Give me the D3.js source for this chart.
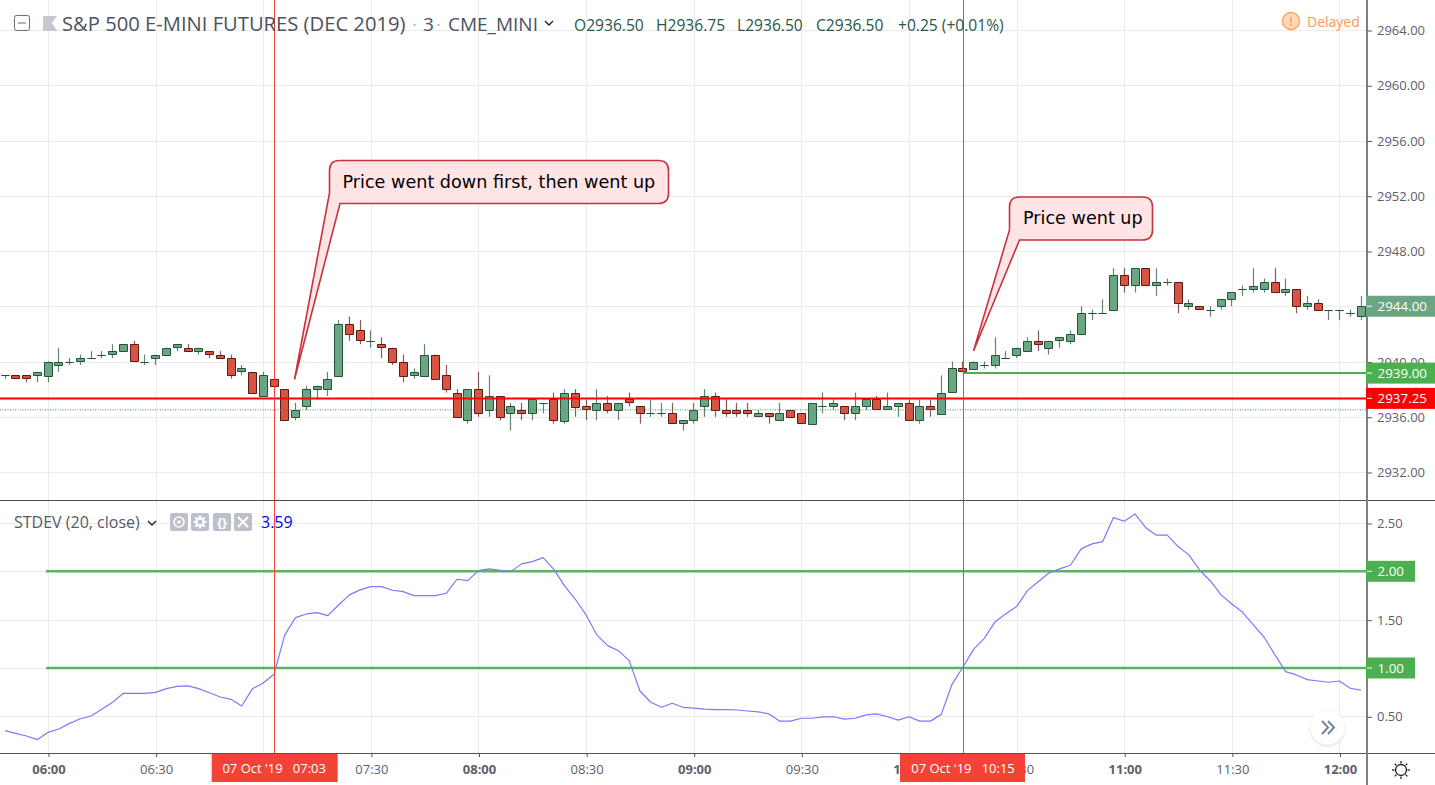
<!DOCTYPE html>
<html><head><meta charset="utf-8">
<script src="https://cdnjs.cloudflare.com/ajax/libs/d3/7.8.5/d3.min.js"></script>
<style>
html,body{margin:0;padding:0;background:#fff;overflow:hidden}
svg{display:block}
text{font-family:"Open Sans","Noto Sans",sans-serif}
</style></head><body>
<svg id="c" width="1435" height="785"></svg>
<script>
// Bars run every 3 minutes from 05:48 to 12:06
const opens=[2939,2939,2939,2939,2939,2939.75,2940,2940,2940.25,2940.5,2940.5,2940.75,2941.25,2940,2940.25,2940.5,2941,2941,2940.75,2940.75,2940.5,2940.25,2939.25,2939.25,2937.5,2938.75,2938,2936,2936.75,2938,2938,2939,2942.75,2942.25,2941.5,2941.25,2941,2940,2939,2939,2940.5,2939,2937.75,2935.75,2938,2936.5,2937.5,2936.25,2936.5,2936.25,2937,2937.25,2935.75,2937.75,2936.75,2936.5,2937,2936.5,2937.25,2936.75,2936.25,2936.25,2936.25,2935.5,2935.75,2936.75,2937.5,2936.5,2936.5,2936.5,2936,2936.25,2935.75,2936.5,2936.25,2935.5,2936.75,2936.75,2936.75,2936.25,2936.75,2937.25,2936.5,2936.75,2937,2935.75,2936.75,2936.25,2937.75,2939.5,2939.5,2939.75,2939.75,2940.25,2940.5,2940.75,2941.5,2941,2941.5,2941.5,2942,2943.5,2943.5,2943.75,2946.25,2945.5,2946.75,2945.5,2945.75,2945.75,2944,2944,2943.75,2944,2944.5,2945.25,2945.25,2945.25,2945.75,2945,2945.25,2944,2944.25,2943.75,2943.75,2943.5,2943.25];
const highs=[2939,2939,2939,2939.25,2940,2941,2940.25,2940.5,2940.75,2940.75,2941.25,2941.25,2941.5,2940.5,2940.5,2941,2941.25,2941.25,2941,2940.75,2940.75,2940.5,2939.75,2939.25,2939.25,2938.75,2938,2937,2938.25,2938.25,2939.25,2943,2943.25,2943,2942.25,2941.75,2941,2940.5,2939.5,2941.25,2940.5,2939.75,2938,2938,2939.25,2939,2937.5,2937,2937,2937.25,2937,2937.75,2938,2938,2937.25,2938,2937.5,2937,2937.75,2936.75,2937.25,2937,2937,2935.75,2937,2938,2937.75,2937.25,2937,2937,2936.5,2936.25,2937,2936.5,2936.25,2937,2937.75,2937.25,2936.75,2937.75,2937.25,2937.5,2937.75,2937,2937.25,2937.25,2937.25,2939,2940,2940,2940,2940,2941.75,2940.75,2941,2941.75,2942.25,2941.5,2941.75,2942.25,2944,2943.75,2944.5,2946.75,2946.75,2946.75,2946.75,2946.75,2946,2945.75,2944.5,2944,2944,2944.5,2945,2945.5,2946.75,2946,2946.75,2946,2945.25,2944.75,2944.5,2943.75,2943.75,2943.75,2944.75];
const lows=[2938.75,2938.75,2938.5,2938.5,2938.5,2939.25,2939.75,2939.75,2940.25,2940.25,2940.25,2940.75,2940,2939.75,2939.75,2940.5,2940.75,2940.75,2940.5,2940.25,2940.25,2938.75,2939,2937.75,2937.5,2937.5,2935.75,2935.75,2936.5,2937.25,2937.5,2939,2941.5,2941.25,2941,2940.25,2939.75,2938.5,2938.75,2939,2938.75,2937.75,2936,2935.5,2936,2936,2935.75,2935,2935.75,2935.75,2936.25,2935.5,2935.5,2936,2935.75,2935.75,2936.25,2935.75,2936.75,2935.5,2936,2936,2935.5,2935,2935.5,2936,2936,2936,2936,2936,2936,2935.5,2935.75,2936,2935.5,2935.5,2936.25,2936.5,2935.75,2935.75,2936.5,2936.5,2936.5,2936,2935.75,2935.5,2936,2936.25,2937.75,2939.25,2939.5,2939.5,2939.5,2940.25,2940.25,2940.75,2940.75,2940.5,2941,2941.25,2942,2943,2943.5,2943.75,2945,2945,2945.5,2944.75,2945.5,2943.5,2943.75,2943.75,2943.25,2943.75,2944,2944.75,2945,2945,2945,2944.75,2943.5,2943.75,2943.75,2943,2943,2943.25,2943];
const closes=[2939,2938.75,2938.75,2939.25,2940,2940,2940,2940.25,2940.25,2940.5,2940.75,2941.25,2940,2940,2940.5,2941,2941.25,2940.75,2941,2940.5,2940.25,2939,2939.5,2937.75,2939,2938.25,2935.75,2936.5,2938,2938.25,2938.75,2942.75,2942,2941.5,2941.5,2941,2940,2939,2939.25,2940.5,2938.75,2938,2936,2938,2936.25,2937.5,2936,2936.75,2936.25,2937.25,2937,2935.75,2937.75,2936.75,2936.5,2937,2936.5,2937,2937,2936.25,2936.25,2936.25,2935.5,2935.75,2936.5,2937.5,2936.5,2936.25,2936.25,2936.25,2936.25,2936,2936.25,2936,2935.5,2937,2936.75,2937,2936.25,2936.75,2937.25,2936.5,2936.75,2937,2935.75,2936.75,2936.5,2937.75,2939.5,2939.25,2940,2939.75,2940.5,2940.25,2941,2941.5,2941.25,2941.5,2941.75,2942,2943.5,2943.5,2943.5,2946.25,2945.5,2946.75,2945.5,2945.75,2945.75,2944.25,2944.25,2943.75,2943.75,2944.5,2945,2945.25,2945.5,2945.75,2945,2945.25,2944,2944.25,2943.75,2943.75,2943.75,2943.5,2944];
const stdev=[.351,.324,.296,.258,.334,.369,.427,.475,.503,.572,.645,.738,.738,.738,.748,.786,.81,.814,.786,.744,.70,.676,.607,.786,.845,.935,1.342,1.521,1.559,1.573,1.541,1.652,1.756,1.808,1.842,1.842,1.804,1.79,1.748,1.748,1.748,1.773,1.918,1.904,2.007,2.025,2.011,1.997,2.077,2.10,2.142,2.02,1.849,1.711,1.549,1.342,1.231,1.179,1.076,.762,.645,.593,.635,.593,.585,.575,.57,.57,.565,.555,.545,.525,.45,.45,.48,.48,.495,.495,.47,.48,.515,.525,.495,.46,.495,.45,.45,.52,.831,1.007,1.193,1.307,1.479,1.562,1.635,1.80,1.893,1.983,2.025,2.063,2.232,2.284,2.308,2.556,2.518,2.594,2.452,2.374,2.374,2.256,2.17,2.014,1.90,1.756,1.662,1.576,1.445,1.318,1.135,.962,.928,.879,.865,.852,.865,.79,.77];
// Time axis: index of the bar, label, bold on the hour
const timeTickBars=[4,14,24,34,44,54,64,74,84,94,104,114,124];
const timeTickLabels=["06:00","06:30","07:00","07:30","08:00","08:30","09:00","09:30","10:00","10:30","11:00","11:30","12:00"];
const timeTickBold=[1,0,1,0,1,0,1,0,1,0,1,0,1];
const priceTicks=[2964,2960,2956,2952,2948,2944,2940,2936,2932];
const stdevTicks=[2.5,2,1.5,1,.5];
const stdevLevels=[2,1];
const stdevLevelStartBar=4;
const cursorBars=[25,89];
const cursorLabels=["07 Oct '19   07:03","07 Oct '19   10:15"];
const redLevel=2937.33, greenLevel=2939.16, lastClose=2936.5;
const priceTags=[{t:"2944.00",y:2944,c:"#6ba583"},{t:"2939.00",y:greenLevel,c:"#4caf50"},{t:"2937.25",y:redLevel,c:"#ff0000"}];
const ohlc=[["O2936.50",574],["H2936.75",656],["L2936.50",737],["C2936.50",816],["+0.25 (+0.01%)",898]];

const W=1435,H=785,axX=1367,axisH=753,sepY=500;
const x=d3.scaleLinear().domain([0,126]).range([4.96,1361]);
const y=d3.scaleLinear().domain([2964,2932]).range([30,472]);
const ys=d3.scaleLinear().domain([2.5,.5]).range([523,716.3]);
const svg=d3.select("#c");
const G="#ebebeb";
const px=v=>Math.round(v)+.5;
const barX=i=>px(x(i)-.4);

// grid
const grid=svg.append("g").attr("stroke",G).attr("stroke-width",1);
grid.selectAll(".v").data(timeTickBars).join("line").attr("x1",d=>px(x(d))).attr("x2",d=>px(x(d))).attr("y1",0).attr("y2",axisH);
grid.selectAll(".p").data(priceTicks).join("line").attr("x1",0).attr("x2",axX).attr("y1",d=>px(y(d))).attr("y2",d=>px(y(d)));
grid.selectAll(".s").data(stdevTicks).join("line").attr("x1",0).attr("x2",axX).attr("y1",d=>px(ys(d))).attr("y2",d=>px(ys(d)));

// candles
const idx=d3.range(opens.length);
const up=i=>closes[i]>=opens[i];
svg.append("g").selectAll("line").data(idx).join("line")
 .attr("x1",i=>barX(i)).attr("x2",i=>barX(i)).attr("y1",i=>y(highs[i])).attr("y2",i=>y(lows[i]))
 .attr("stroke",i=>up(i)?"#225437":"#5b1a13").attr("stroke-opacity",.72).attr("stroke-width",1.2);
svg.append("g").selectAll("path").data(idx).join("path")
 .attr("d",i=>{
   const t=px(y(Math.max(opens[i],closes[i])));
   const h=Math.round(Math.abs(y(opens[i])-y(closes[i])));
   return `M${barX(i)-4},${t}h8v${h}h-8Z`;
 })
 .attr("fill",i=>up(i)?"#6ba583":"#d75442")
 .attr("stroke",i=>up(i)?"#225437":"#5b1a13").attr("stroke-width",1);

// price levels
svg.append("line").attr("x1",0).attr("x2",axX).attr("y1",y(lastClose)).attr("y2",y(lastClose))
 .attr("stroke","#4c8c6c").attr("stroke-width",1).attr("stroke-dasharray","1 1.5");
svg.append("line").attr("x1",0).attr("x2",axX).attr("y1",y(redLevel)).attr("y2",y(redLevel))
 .attr("stroke","#ff0000").attr("stroke-width",2);
svg.append("line").attr("x1",x(cursorBars[1]+0)).attr("x2",axX).attr("y1",y(greenLevel)).attr("y2",y(greenLevel))
 .attr("stroke","#4caf50").attr("stroke-width",2);

// stdev levels and line
svg.append("g").selectAll("line").data(stdevLevels).join("line")
 .attr("x1",x(stdevLevelStartBar)-2).attr("x2",axX).attr("y1",d=>ys(d)).attr("y2",d=>ys(d))
 .attr("stroke","#5ab55e").attr("stroke-width",2.5);
svg.append("path").attr("fill","none").attr("stroke","#7a7afc").attr("stroke-width",1.2)
 .attr("stroke-linejoin","round")
 .attr("d",d3.line().x((d,i)=>x(i)).y(d=>ys(d))(stdev));

// callouts
const callout=(l,t,r,b,rad,tailTop,tip,tailX,txt,tx,ty)=>{
 const p=`M${l+rad},${t}H${r-rad}Q${r},${t} ${r},${t+rad}V${b-rad}Q${r},${b} ${r-rad},${b}H${tailX}L${tip[0]},${tip[1]}L${l},${tailTop}V${t+rad}Q${l},${t} ${l+rad},${t}Z`;
 svg.append("path").attr("d",p).attr("fill","#ffe4e6").attr("stroke","#c8323c").attr("stroke-width",1.6).attr("stroke-linejoin","miter");
 svg.append("text").attr("x",tx).attr("y",ty).text(txt).attr("fill","#000")
  .style("font-family","'DejaVu Sans'").style("font-size","17.6px");
};
callout(329.5,160.5,668.5,203.5,10,193,[294.5,379.5],340,"Price went down first, then went up",342.5,187.5);
callout(1009.5,197,1152.5,240,10,230,[973.5,351],1019.5,"Price went up",1023,224);

// cursors
svg.append("g").selectAll("line").data(cursorBars).join("line")
 .attr("x1",d=>px(x(d))).attr("x2",d=>px(x(d))).attr("y1",0).attr("y2",756)
 .attr("stroke","#f44336").attr("stroke-width",1);

// axes
const fmt2=d3.format(".2f");
const styleAxis=g=>{g.select(".domain").remove();g.selectAll("text").style("font-size","13px").attr("fill","#5d606b");g.selectAll("line").attr("stroke","#555");};
svg.append("g").attr("transform",`translate(${axX},0.5)`).call(d3.axisRight(y).tickValues(priceTicks).tickFormat(fmt2).tickSize(5).tickPadding(5)).call(styleAxis);
svg.append("g").attr("transform",`translate(${axX},0.5)`).call(d3.axisRight(ys).tickValues(stdevTicks).tickFormat(fmt2).tickSize(5).tickPadding(5)).call(styleAxis);
const xAxis=svg.append("g").attr("transform",`translate(0.5,${axisH})`).call(d3.axisBottom(x).tickValues(timeTickBars).tickFormat((d,i)=>timeTickLabels[i]).tickSize(4).tickPadding(8)).call(styleAxis);
xAxis.selectAll("text").style("font-weight",(d,i)=>timeTickBold[i]?"700":"400");

// frame lines
svg.append("line").attr("x1",0).attr("x2",W).attr("y1",sepY+.5).attr("y2",sepY+.5).attr("stroke","#4a4a4a");
svg.append("line").attr("x1",0).attr("x2",W).attr("y1",axisH+.5).attr("y2",axisH+.5).attr("stroke","#555");
svg.append("line").attr("x1",axX).attr("x2",axX).attr("y1",0).attr("y2",H).attr("stroke","#7f7f7f").attr("stroke-width",2);

// price tags
const tags=svg.append("g");
priceTags.forEach(d=>{
 const c=y(d.y);
 tags.append("rect").attr("x",axX-1).attr("y",c-10.5).attr("width",W-axX+1).attr("height",21).attr("fill",d.c);
 tags.append("line").attr("x1",axX).attr("x2",axX+5).attr("y1",c).attr("y2",c).attr("stroke","#fff");
 tags.append("text").attr("x",axX+10.5).attr("y",c+4.8).text(d.t).attr("fill","#fff").style("font-size","13.4px");
});
stdevLevels.forEach(v=>{
 const c=ys(v);
 tags.append("rect").attr("x",axX-1).attr("y",c-10.5).attr("width",49).attr("height",21).attr("fill","#4caf50");
 tags.append("line").attr("x1",axX).attr("x2",axX+5).attr("y1",c).attr("y2",c).attr("stroke","#fff");
 tags.append("text").attr("x",axX+10.5).attr("y",c+4.8).text(fmt2(v)).attr("fill","#fff").style("font-size","13.4px");
});

// time tags
const tagW=[126,125];
cursorBars.forEach((b,i)=>{
 const cx=[274.2,963][i];
 svg.append("rect").attr("x",cx-(i?63:62.5)).attr("y",754).attr("width",tagW[i]).attr("height",28).attr("fill","#f44336");
 svg.append("text").attr("x",cx).attr("y",773).attr("text-anchor","middle").text(cursorLabels[i]).attr("fill","#fff").style("font-size","13px").style("white-space","pre").attr("xml:space","preserve");
});

// header
const hdr=svg.append("g");
hdr.append("rect").attr("x",14.5).attr("y",15.5).attr("width",15).attr("height",15).attr("rx",2).attr("fill","none").attr("stroke","#6d6d6d");
hdr.append("line").attr("x1",18).attr("x2",26).attr("y1",23).attr("y2",23).attr("stroke","#6d6d6d");
hdr.append("path").attr("d","M43,16H57L52,23L57,31H43Z").attr("fill","#c5c8d1");
hdr.append("text").attr("x",62).attr("y",31).text("S&P 500 E-MINI FUTURES (DEC 2019)").attr("fill","#4c525e").style("font-size","20.2px");
hdr.append("text").attr("x",412).attr("y",31).text("·").attr("fill","#b5b8c0").style("font-size","19px");
hdr.append("text").attr("x",423).attr("y",31).text("3").attr("fill","#4c525e").style("font-size","19px");
hdr.append("text").attr("x",436).attr("y",31).text("·").attr("fill","#b5b8c0").style("font-size","19px");
hdr.append("text").attr("x",448).attr("y",31).text("CME_MINI").attr("fill","#4c525e").style("font-size","19px");
hdr.append("path").attr("d","M545,21L549,25L553,21").attr("fill","none").attr("stroke","#222").attr("stroke-width",1.4);
ohlc.forEach(d=>hdr.append("text").attr("x",d[1]).attr("y",30.5).text(d[0]).attr("fill","#28584a").style("font-size","15.6px"));
hdr.append("circle").attr("cx",1291).attr("cy",21).attr("r",8.5).attr("fill","#ffd9b8").attr("stroke","#ffa15c").attr("stroke-width",1.4);
hdr.append("text").attr("x",1291).attr("y",26).attr("text-anchor","middle").text("!").attr("fill","#ff8a3c").style("font-size","13px");
hdr.append("text").attr("x",1307).attr("y",27).text("Delayed").attr("fill","#ff9850").style("font-size","14px");

// study legend
const leg=svg.append("g");
leg.append("text").attr("x",14).attr("y",528).text("STDEV (20, close)").attr("fill","#555a66").style("font-size","16px");
leg.append("path").attr("d","M148,521L152,525L156,521").attr("fill","none").attr("stroke","#222").attr("stroke-width",1.4);
const btnX=[170,191,213,234];
btnX.forEach(v=>leg.append("rect").attr("x",v).attr("y",513).attr("width",18).attr("height",18).attr("rx",2).attr("fill","#bcc0ca"));
leg.append("circle").attr("cx",179).attr("cy",522).attr("r",5).attr("fill","none").attr("stroke","#fff").attr("stroke-width",1.6);
leg.append("circle").attr("cx",179).attr("cy",522).attr("r",1.8).attr("fill","#fff");
leg.append("circle").attr("cx",200).attr("cy",522).attr("r",3.6).attr("fill","none").attr("stroke","#fff").attr("stroke-width",2.4);
d3.range(0,360,45).forEach(a=>leg.append("rect").attr("x",199).attr("y",515.5).attr("width",2).attr("height",2.5).attr("fill","#fff").attr("transform",`rotate(${a} 200 522)`));
leg.append("text").attr("x",222).attr("y",527).attr("text-anchor","middle").text("{}").attr("fill","#fff").style("font-size","13px").style("font-weight","700");
leg.append("path").attr("d","M238,517L248,527M248,517L238,527").attr("stroke","#fff").attr("stroke-width",2);
leg.append("text").attr("x",261).attr("y",528).text("3.59").attr("fill","#0000ff").style("font-size","16px");

// scroll button
const defs=svg.append("defs");
const fl=defs.append("filter").attr("id","sh").attr("x","-30%").attr("y","-30%").attr("width","160%").attr("height","160%");
fl.append("feDropShadow").attr("dx",0).attr("dy",1).attr("stdDeviation",1.6).attr("flood-color","#000").attr("flood-opacity",.18);
svg.append("circle").attr("cx",1327.5).attr("cy",727.5).attr("r",17).attr("fill","#fff").attr("filter","url(#sh)");
svg.append("path").attr("d","M1322,721L1328,727.5L1322,734M1328,721L1334,727.5L1328,734").attr("fill","none").attr("stroke","#758696").attr("stroke-width",2);

// settings icon
const gear=svg.append("g").attr("stroke","#222").attr("stroke-width",1.3).attr("fill","none");
gear.append("circle").attr("cx",1401).attr("cy",770).attr("r",5.5);
d3.range(0,360,45).forEach(a=>gear.append("line").attr("x1",1401).attr("x2",1401).attr("y1",763.5).attr("y2",761).attr("transform",`rotate(${a} 1401 770)`));
</script>
</body></html>
